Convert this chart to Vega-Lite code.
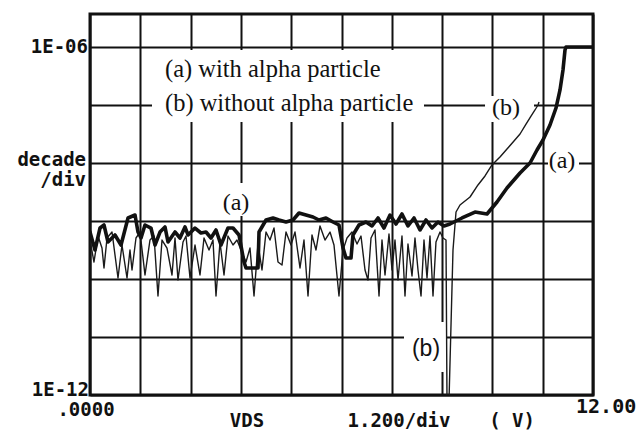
{
  "$schema": "https://vega.github.io/schema/vega-lite/v6.json",
  "width": 503,
  "height": 381,
  "autosize": {"type": "none"},
  "padding": {"left": 90, "top": 14, "right": 45, "bottom": 37},
  "background": "white",
  "config": {
    "view": {"stroke": "#111", "strokeWidth": 3},
    "axis": {"gridColor": "#111", "gridWidth": 2, "gridOpacity": 1, "labels": false, "ticks": false, "domain": false, "title": null}
  },
  "datasets": {
    "a": [
      {"V":0,"L":-9.19},{"V":0.119,"L":-9.5},{"V":0.239,"L":-9.121},{"V":0.334,"L":-9.069},{"V":0.429,"L":-9.362},{"V":0.596,"L":-9.241},{"V":0.74,"L":-9.414},{"V":0.907,"L":-8.948},{"V":1.074,"L":-8.897},{"V":1.145,"L":-9.19},{"V":1.217,"L":-9.293},{"V":1.312,"L":-9.069},{"V":1.455,"L":-9.121},{"V":1.551,"L":-9.414},{"V":1.67,"L":-9.19},{"V":1.789,"L":-9.103},{"V":1.861,"L":-9.362},{"V":2.028,"L":-9.19},{"V":2.147,"L":-9.293},{"V":2.266,"L":-9.103},{"V":2.338,"L":-9.241},{"V":2.505,"L":-9.121},{"V":2.648,"L":-9.207},{"V":2.767,"L":-9.19},{"V":2.887,"L":-9.293},{"V":3.006,"L":-9.155},{"V":3.125,"L":-9.414},{"V":3.292,"L":-9.121},{"V":3.412,"L":-9.121},{"V":3.555,"L":-9.241},{"V":3.674,"L":-9.707},{"V":3.722,"L":-9.81},{"V":4.008,"L":-9.81},{"V":4.032,"L":-9.19},{"V":4.199,"L":-8.983},{"V":4.366,"L":-8.948},{"V":4.509,"L":-8.983},{"V":4.676,"L":-9.017},{"V":4.843,"L":-8.983},{"V":4.986,"L":-8.862},{"V":5.153,"L":-8.897},{"V":5.32,"L":-8.931},{"V":5.463,"L":-8.983},{"V":5.63,"L":-8.948},{"V":5.797,"L":-9.017},{"V":5.94,"L":-9.069},{"V":6.036,"L":-9.466},{"V":6.107,"L":-9.638},{"V":6.227,"L":-9.638},{"V":6.274,"L":-9.241},{"V":6.417,"L":-9.069},{"V":6.584,"L":-9.017},{"V":6.728,"L":-9.086},{"V":6.871,"L":-8.948},{"V":7.014,"L":-9.121},{"V":7.157,"L":-8.897},{"V":7.3,"L":-9.052},{"V":7.443,"L":-8.879},{"V":7.586,"L":-9.086},{"V":7.73,"L":-8.948},{"V":7.873,"L":-9.155},{"V":8.016,"L":-8.983},{"V":8.159,"L":-9.121},{"V":8.302,"L":-9.017},{"V":8.445,"L":-9.086},{"V":8.589,"L":-9.052},{"V":8.875,"L":-8.948},{"V":9.185,"L":-8.845},{"V":9.471,"L":-8.879},{"V":9.71,"L":-8.672},{"V":9.948,"L":-8.431},{"V":10.259,"L":-8.172},{"V":10.497,"L":-8.0},{"V":10.664,"L":-7.776},{"V":10.807,"L":-7.603},{"V":10.974,"L":-7.345},{"V":11.117,"L":-7.052},{"V":11.213,"L":-6.741},{"V":11.284,"L":-6.397},{"V":11.332,"L":-6.052},{"V":11.356,"L":-6.0},{"V":12,"L":-6.0}
    ],
    "b": [
      {"V":0,"L":-9.328},{"V":0.095,"L":-9.707},{"V":0.191,"L":-9.259},{"V":0.286,"L":-9.466},{"V":0.334,"L":-9.81},{"V":0.406,"L":-9.293},{"V":0.525,"L":-9.19},{"V":0.668,"L":-9.983},{"V":0.763,"L":-9.414},{"V":0.883,"L":-9.983},{"V":0.954,"L":-9.5},{"V":1.002,"L":-9.845},{"V":1.097,"L":-9.293},{"V":1.193,"L":-9.19},{"V":1.312,"L":-9.931},{"V":1.431,"L":-9.328},{"V":1.527,"L":-9.259},{"V":1.622,"L":-10.293},{"V":1.718,"L":-9.328},{"V":1.837,"L":-9.466},{"V":1.956,"L":-9.931},{"V":2.028,"L":-9.293},{"V":2.099,"L":-10.017},{"V":2.219,"L":-9.362},{"V":2.29,"L":-9.259},{"V":2.386,"L":-9.983},{"V":2.505,"L":-9.414},{"V":2.624,"L":-9.931},{"V":2.72,"L":-9.293},{"V":2.839,"L":-9.5},{"V":2.934,"L":-9.328},{"V":3.006,"L":-10.293},{"V":3.101,"L":-9.362},{"V":3.197,"L":-9.931},{"V":3.292,"L":-9.259},{"V":3.412,"L":-9.414},{"V":3.507,"L":-9.328},{"V":3.602,"L":-9.5},{"V":3.722,"L":-9.707},{"V":3.817,"L":-9.466},{"V":3.913,"L":-10.293},{"V":4.008,"L":-9.397},{"V":4.103,"L":-9.845},{"V":4.199,"L":-9.19},{"V":4.294,"L":-9.328},{"V":4.39,"L":-9.121},{"V":4.485,"L":-9.707},{"V":4.581,"L":-9.759},{"V":4.676,"L":-9.19},{"V":4.795,"L":-9.414},{"V":4.891,"L":-9.19},{"V":5.01,"L":-9.81},{"V":5.105,"L":-9.328},{"V":5.201,"L":-10.293},{"V":5.296,"L":-9.241},{"V":5.392,"L":-9.5},{"V":5.487,"L":-9.086},{"V":5.606,"L":-9.328},{"V":5.726,"L":-9.19},{"V":5.821,"L":-9.414},{"V":5.94,"L":-10.293},{"V":6.036,"L":-9.5},{"V":6.131,"L":-9.293},{"V":6.25,"L":-9.19},{"V":6.37,"L":-9.397},{"V":6.465,"L":-9.259},{"V":6.561,"L":-9.845},{"V":6.632,"L":-10.017},{"V":6.704,"L":-9.293},{"V":6.799,"L":-9.155},{"V":6.895,"L":-10.293},{"V":6.966,"L":-9.328},{"V":7.038,"L":-9.931},{"V":7.133,"L":-9.224},{"V":7.205,"L":-9.845},{"V":7.276,"L":-9.328},{"V":7.348,"L":-10.017},{"V":7.443,"L":-9.259},{"V":7.515,"L":-10.293},{"V":7.586,"L":-9.397},{"V":7.682,"L":-9.948},{"V":7.753,"L":-9.293},{"V":7.825,"L":-9.845},{"V":7.897,"L":-10.293},{"V":7.968,"L":-9.328},{"V":8.04,"L":-9.983},{"V":8.111,"L":-9.259},{"V":8.183,"L":-10.293},{"V":8.254,"L":-9.362},{"V":8.35,"L":-9.19},{"V":8.421,"L":-9.293},{"V":8.493,"L":-9.328},{"V":8.517,"L":-12.086},{"V":8.565,"L":-12.086},{"V":8.66,"L":-9.5},{"V":8.732,"L":-8.845},{"V":8.827,"L":-8.724},{"V":9.066,"L":-8.586},{"V":9.256,"L":-8.379},{"V":9.424,"L":-8.224},{"V":9.59,"L":-8.034},{"V":9.781,"L":-7.897},{"V":9.948,"L":-7.759},{"V":10.115,"L":-7.621},{"V":10.259,"L":-7.5},{"V":10.402,"L":-7.328},{"V":10.521,"L":-7.19},{"V":10.616,"L":-7.086},{"V":10.688,"L":-7.0},{"V":10.712,"L":-6.948}
    ],
    "masks": [
      {"x1":1.479,"x2":7.968,"y1":-6.052,"y2":-7.293},
      {"x1":9.424,"x2":10.593,"y1":-6.845,"y2":-7.293},
      {"x1":10.926,"x2":11.666,"y1":-7.793,"y2":-8.155},
      {"x1":3.101,"x2":3.889,"y1":-8.345,"y2":-8.914},
      {"x1":7.491,"x2":8.517,"y1":-10.741,"y2":-11.603}
    ],
    "monoR": [
      {"V":-0.048,"L":-6.0,"t":"1E-06"},
      {"V":-0.095,"L":-7.948,"t":"decade"},
      {"V":-0.095,"L":-8.293,"t":"/div"},
      {"V":-0.024,"L":-11.914,"t":"1E-12"}
    ],
    "monoC": [
      {"V":-0.095,"L":-12.259,"t":".0000"},
      {"V":3.746,"L":-12.448,"t":"VDS"},
      {"V":7.372,"L":-12.448,"t":"1.200/div"},
      {"V":10.068,"L":-12.448,"t":"( V)"}
    ],
    "monoL": [
      {"V":11.595,"L":-12.207,"t":"12.00"}
    ],
    "serifL": [
      {"V":1.789,"L":-6.397,"t":"(a) with alpha particle"},
      {"V":1.789,"L":-6.983,"t":"(b) without alpha particle"}
    ],
    "serifC": [
      {"V":9.925,"L":-7.052,"t":"(b)"},
      {"V":11.26,"L":-7.966,"t":"(a)"},
      {"V":3.483,"L":-8.69,"t":"(a)"}
    ],
    "sansC": [
      {"V":8.016,"L":-11.207,"t":"(b)"}
    ]
  },
  "layer": [
    {
      "data": {"name": "masks"},
      "mark": {"type": "rect", "fill": "white", "stroke": null},
      "encoding": {
        "x": {"field": "x1", "type": "quantitative", "scale": {"domain": [0, 12], "nice": false, "zero": false},
              "axis": {"values": [0, 1.2, 2.4, 3.6, 4.8, 6, 7.2, 8.4, 9.6, 10.8, 12], "grid": true}},
        "x2": {"field": "x2"},
        "y": {"field": "y1", "type": "quantitative", "scale": {"domain": [-12, -5.431], "nice": false, "zero": false},
              "axis": {"values": [-12, -11, -10, -9, -8, -7, -6], "grid": true}},
        "y2": {"field": "y2"}
      }
    },
    {
      "data": {"name": "b"},
      "mark": {"type": "line", "color": "#1a1a1a", "strokeWidth": 1.4, "clip": true, "strokeJoin": "round"},
      "encoding": {
        "x": {"field": "V", "type": "quantitative"},
        "y": {"field": "L", "type": "quantitative"}
      }
    },
    {
      "data": {"name": "a"},
      "mark": {"type": "line", "color": "#111", "strokeWidth": 3.6, "clip": true, "strokeJoin": "round", "strokeCap": "round"},
      "encoding": {
        "x": {"field": "V", "type": "quantitative"},
        "y": {"field": "L", "type": "quantitative"}
      }
    },
    {
      "data": {"name": "monoR"},
      "mark": {"type": "text", "align": "right", "baseline": "middle", "font": "DejaVu Sans Mono", "fontWeight": "bold", "fontSize": 19, "color": "#111"},
      "encoding": {
        "x": {"field": "V", "type": "quantitative"},
        "y": {"field": "L", "type": "quantitative"},
        "text": {"field": "t"}
      }
    },
    {
      "data": {"name": "monoC"},
      "mark": {"type": "text", "align": "center", "baseline": "middle", "font": "DejaVu Sans Mono", "fontWeight": "bold", "fontSize": 19, "color": "#111"},
      "encoding": {
        "x": {"field": "V", "type": "quantitative"},
        "y": {"field": "L", "type": "quantitative"},
        "text": {"field": "t"}
      }
    },
    {
      "data": {"name": "monoL"},
      "mark": {"type": "text", "align": "left", "baseline": "middle", "font": "DejaVu Sans Mono", "fontWeight": "bold", "fontSize": 20, "color": "#111"},
      "encoding": {
        "x": {"field": "V", "type": "quantitative"},
        "y": {"field": "L", "type": "quantitative"},
        "text": {"field": "t"}
      }
    },
    {
      "data": {"name": "serifL"},
      "mark": {"type": "text", "align": "left", "baseline": "middle", "font": "Liberation Serif", "fontSize": 24.5, "color": "#111"},
      "encoding": {
        "x": {"field": "V", "type": "quantitative"},
        "y": {"field": "L", "type": "quantitative"},
        "text": {"field": "t"}
      }
    },
    {
      "data": {"name": "serifC"},
      "mark": {"type": "text", "align": "center", "baseline": "middle", "font": "Liberation Serif", "fontSize": 24, "color": "#111"},
      "encoding": {
        "x": {"field": "V", "type": "quantitative"},
        "y": {"field": "L", "type": "quantitative"},
        "text": {"field": "t"}
      }
    },
    {
      "data": {"name": "sansC"},
      "mark": {"type": "text", "align": "center", "baseline": "middle", "font": "Liberation Sans", "fontSize": 23, "color": "#111"},
      "encoding": {
        "x": {"field": "V", "type": "quantitative"},
        "y": {"field": "L", "type": "quantitative"},
        "text": {"field": "t"}
      }
    }
  ]
}
